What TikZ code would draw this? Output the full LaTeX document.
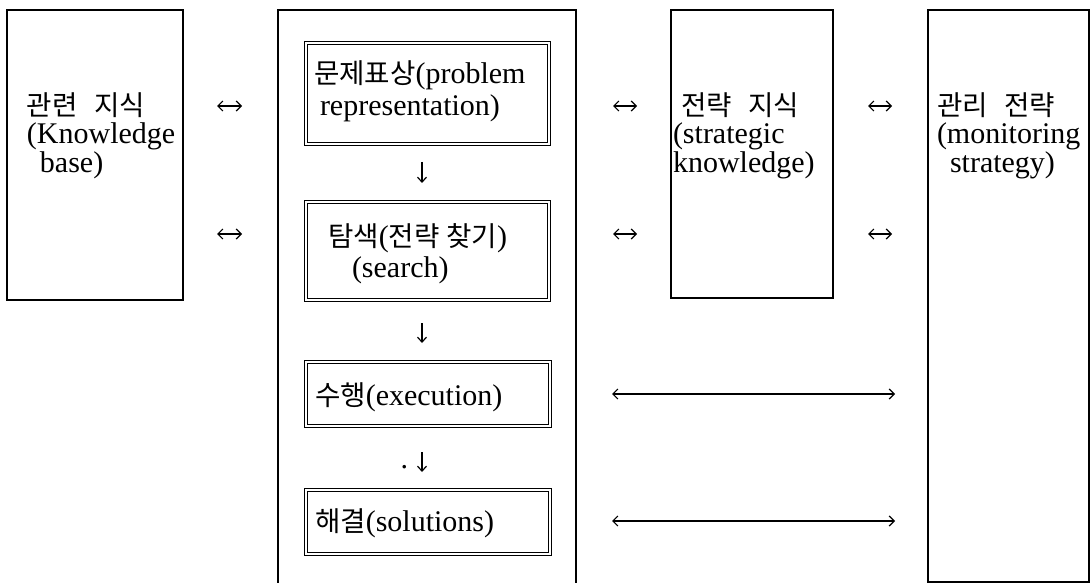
\documentclass[tikz,border=0pt]{standalone}
\usepackage{fontspec}
\setmainfont{Liberation Serif}
\newfontfamily\kr[Scale=0.92]{Noto Sans CJK KR}
\usetikzlibrary{arrows.meta}
\tikzset{
  frame/.style={draw, line width=1.3pt, inner sep=0pt, outer sep=0pt, anchor=north west},
  dblbox/.style={draw, double, double distance=2.8pt, line width=0.9pt, inner sep=0pt, outer sep=0pt, anchor=north west},
  lbl/.style={anchor=base west, inner sep=0pt, outer sep=0pt, align=left, font=\fontsize{30}{28.5}\selectfont},
  ilbl/.style={lbl, font=\fontsize{30}{31.5}\selectfont},
  dbl/.style={{Straight Barb[length=5pt,width=10pt]}-{Straight Barb[length=5pt,width=10pt]}, line width=1.2pt},
  down/.style={-{Straight Barb[length=5pt,width=9pt]}, line width=1.2pt},
}
\begin{document}
\begin{tikzpicture}[x=1pt,y=-1pt]
\useasboundingbox[fill=white] (0,0) rectangle (1090,583);
% outer columns
\node[frame, minimum width=176pt, minimum height=290pt] (kb) at (7,10) {};
\node[frame, minimum width=298pt, minimum height=600pt] (mid) at (278,10) {};
\node[frame, minimum width=162pt, minimum height=288pt] (sk) at (671,10) {};
\node[frame, minimum width=161pt, minimum height=572pt] (ms) at (928,10) {};
% inner double boxes
\node[dblbox, minimum width=243pt, minimum height=101pt] (p1) at (306,43) {};
\node[dblbox, minimum width=243pt, minimum height=98pt] (p2) at (306,202) {};
\node[dblbox, minimum width=244pt, minimum height=64pt] (p3) at (306,362) {};
\node[dblbox, minimum width=244pt, minimum height=64pt] (p4) at (306,490) {};
% labels (anchor base = baseline of the last line)
\node[lbl] (tkb) at (27,172) {{\kr 관련\hspace{0.6em}지식}\\(Knowledge\\\hspace{13pt}base)};
\node[lbl] (tsk) at (673,172) {\hspace{8pt}{\kr 전략\hspace{0.6em}지식}\\(strategic\\knowledge)};
\node[lbl] (tms) at (937,172) {{\kr 관리\hspace{0.6em}전략}\\(monitoring\\\hspace{13pt}strategy)};
\node[ilbl] (tp1) at (314,115.5) {{\kr 문제표상}(problem\\\hspace{6pt}representation)};
\node[ilbl] (tp2) at (328,277.5) {{\kr 탐색}({\kr 전략\hspace{0.25em}찾기})\\\hspace{24pt}(search)};
\node[ilbl] (tp3) at (315,405) {{\kr 수행}(execution)};
\node[ilbl] (tp4) at (315,531) {{\kr 해결}(solutions)};
\node[lbl] (dot) at (400.5,468.5) {.};
% horizontal double arrows
\draw[dbl, shorten <=34pt, shorten >=36pt] (kb.east |- 0,106) -- (mid.west |- 0,106);
\draw[dbl, shorten <=34pt, shorten >=36pt] (kb.east |- 0,234) -- (mid.west |- 0,234);
\draw[dbl, shorten <=37pt, shorten >=34pt] (mid.east |- 0,106) -- (sk.west |- 0,106);
\draw[dbl, shorten <=37pt, shorten >=34pt] (mid.east |- 0,234) -- (sk.west |- 0,234);
\draw[dbl, shorten <=35pt, shorten >=36pt] (sk.east |- 0,106) -- (ms.west |- 0,106);
\draw[dbl, shorten <=35pt, shorten >=36pt] (sk.east |- 0,234) -- (ms.west |- 0,234);
\draw[dbl, shorten <=36pt, shorten >=33pt] (mid.east |- 0,394) -- (ms.west |- 0,394);
\draw[dbl, shorten <=36pt, shorten >=33pt] (mid.east |- 0,521) -- (ms.west |- 0,521);
% vertical arrows
\draw[down, shorten <=18pt, shorten >=19pt] ([xshift=-5.5pt]p1.south) -- ([xshift=-5.5pt]p2.north);
\draw[down, shorten <=23pt, shorten >=19pt] ([xshift=-5.5pt]p2.south) -- ([xshift=-6pt]p3.north);
\draw[down, shorten <=26pt, shorten >=18pt] ([xshift=-6pt]p3.south) -- ([xshift=-6pt]p4.north);
\end{tikzpicture}
\end{document}
